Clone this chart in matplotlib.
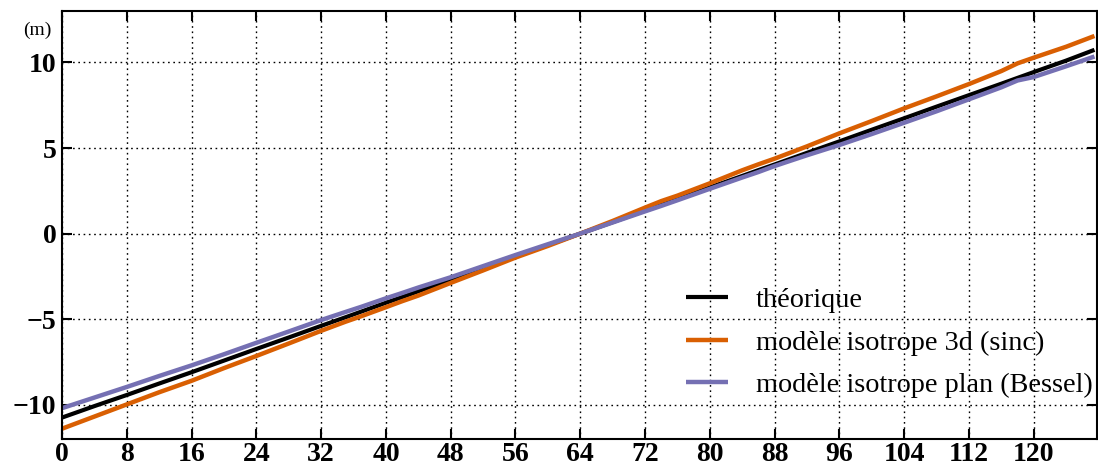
import matplotlib.pyplot as plt
import numpy as np

# valeurs (abscisse en pas, ordonnée en m)
x_pts = [0, 4, 8, 12, 16, 20, 24, 28, 32, 35, 37, 40, 42, 44, 48, 52, 56, 60,
         64, 68, 72, 74, 76, 80, 84, 86, 88, 92, 96, 100, 104, 108, 112, 116,
         118, 120, 124, 127.5]
theorique = [-10.75, -10.08, -9.43, -8.76, -8.10, -7.42, -6.74, -6.07, -5.39,
             -4.89, -4.55, -4.04, -3.71, -3.37, -2.70, -2.02, -1.35, -0.67,
             0.00, 0.67, 1.35, 1.69, 2.02, 2.70, 3.37, 3.71, 4.04, 4.72, 5.39,
             6.07, 6.74, 7.42, 8.09, 8.76, 9.10, 9.44, 10.11, 10.74]
sinc3d = [-11.40, -10.69, -9.98, -9.27, -8.60, -7.86, -7.15, -6.42, -5.68,
          -5.15, -4.82, -4.30, -3.95, -3.62, -2.88, -2.15, -1.40, -0.72,
          0.00, 0.74, 1.52, 1.90, 2.22, 2.94, 3.70, 4.05, 4.38, 5.10, 5.86,
          6.58, 7.32, 8.02, 8.74, 9.50, 9.95, 10.28, 10.92, 11.55]
bessel = [-10.20, -9.58, -8.96, -8.32, -7.70, -7.05, -6.38, -5.72, -5.05,
          -4.58, -4.27, -3.78, -3.47, -3.15, -2.55, -1.90, -1.25, -0.62,
          0.00, 0.65, 1.30, 1.62, 1.95, 2.62, 3.28, 3.60, 3.95, 4.58, 5.18,
          5.82, 6.48, 7.15, 7.85, 8.55, 8.95, 9.15, 9.78, 10.35]

labels = ['théorique', 'modèle isotrope 3d (sinc)', 'modèle isotrope plan (Bessel)']
couleurs = ['black', '#d95f02', '#7570b3']

plt.rcParams['font.family'] = ['Liberation Serif', 'DejaVu Serif']
plt.rcParams['axes.unicode_minus'] = True

fig = plt.figure(figsize=(10.98, 4.65), dpi=100)
ax = fig.add_axes([0.0565, 0.056, 0.9425, 0.92])

for serie, lab, c, lw in zip([theorique, sinc3d, bessel], labels, couleurs, [3.0, 3.2, 3.2]):
    ax.plot(x_pts, serie, color=c, lw=lw, label=lab, solid_capstyle='butt')

ax.set_xlim(0, 127.8)
ax.set_ylim(-12, 13)
ax.set_xticks(np.arange(0, 121, 8))
ax.set_yticks([-10, -5, 0, 5, 10])

ax.grid(True, color='black', lw=1.0, dashes=(1.2, 2.6))
ax.tick_params(direction='in', top=True, right=True, length=7, width=1.5, labelsize=20)
ax.tick_params(axis='x', pad=2)
ax.tick_params(axis='y', pad=4)
for lab in ax.get_xticklabels() + ax.get_yticklabels():
    lab.set_fontweight('bold')
for sp in ax.spines.values():
    sp.set_linewidth(1.5)

ax.legend(loc='lower right', bbox_to_anchor=(0.996, 0.095), frameon=False, fontsize=20.3,
          handlelength=1.5, handletextpad=1.0, labelspacing=0.6, borderaxespad=0.0,
          borderpad=0.0)

fig.text(37 / 1098, 1 - 30 / 465, '(m)', ha='center', va='center', fontsize=14)

plt.savefig('out.png', dpi=100)
